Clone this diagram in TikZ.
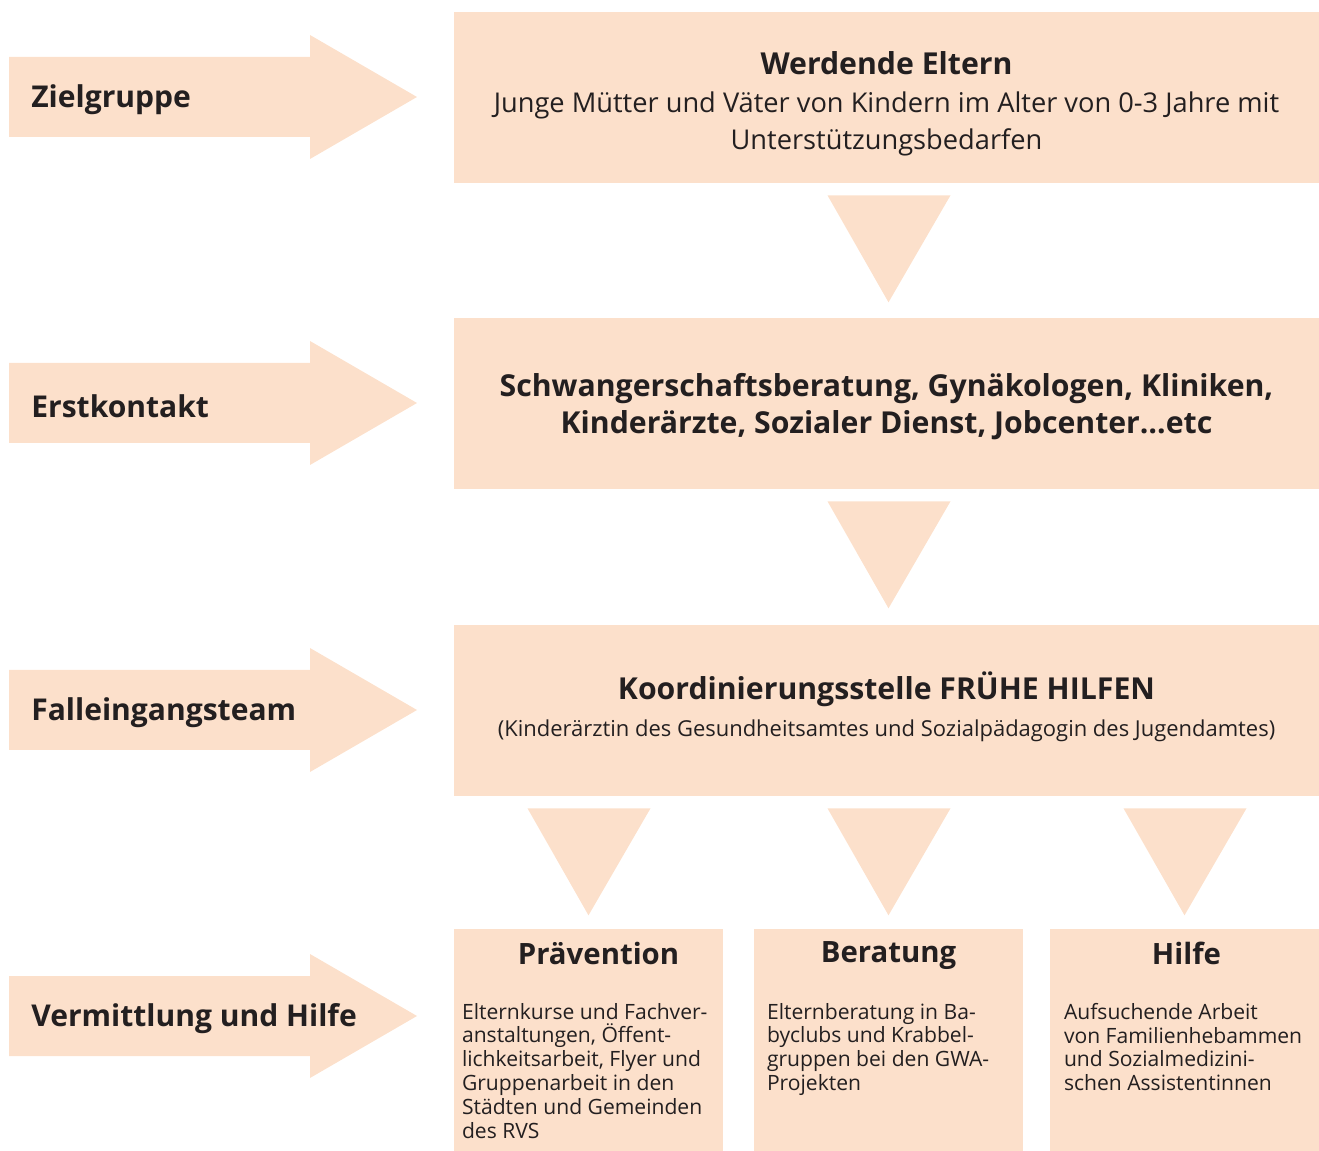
\documentclass[tikz,border=0pt]{standalone}
\usepackage{fontspec}
\setmainfont{Open Sans}
\usetikzlibrary{calc, positioning}
\definecolor{boxfill}{RGB}{252,224,203}
\definecolor{ink}{RGB}{35,31,32}
\tikzset{
  box/.style={fill=boxfill, rectangle, inner sep=0pt, minimum width=17.3cm, minimum height=3.42cm, align=center, text=ink},
  subbox/.style={fill=boxfill, rectangle, inner sep=0pt, minimum width=5.38cm, minimum height=4.44cm},
  side/.style={font=\bfseries\fontsize{17.1}{20}\selectfont, text=ink, inner sep=0pt},
  subtitle/.style={font=\bfseries\fontsize{16.7}{20}\selectfont, text=ink, inner sep=0pt},
  subtext/.style={font=\fontsize{12}{13.6}\selectfont, text=ink, inner sep=0pt, align=left},
}
\newcommand{\titel}{\bfseries\fontsize{17.2}{21}\selectfont}
% Pfeil links: name, mitte y, text
\newcommand{\pfeil}[3]{%
  \fill[boxfill] (9,#2-40) -- (310,#2-40) -- (310,#2-62) -- (417,#2)
    -- (310,#2+62) -- (310,#2+40) -- (9,#2+40) -- cycle;
  \node[side, anchor=west] (#1) at (31,#2+3) {#3};}
% Dreieck zwischen zwei Kaesten
\newcommand{\dreieck}[2]{%
  \fill[boxfill] ($(#1.south -| #2.north)+(-61,12)$) -- ($(#1.south -| #2.north)+(62,12)$)
    -- ($(#1.south -| #2.north)+(0,119)$) -- cycle;}

\begin{document}
\begin{tikzpicture}[x=0.02cm, y=-0.02cm]
    \useasboundingbox (0,0) rectangle (1319,1151);
    % linke Spalte
    \pfeil{ziel}{97}{Zielgruppe}
    \pfeil{erst}{403}{Erstkontakt}
    \pfeil{fall}{710}{Falleingangsteam}
    \pfeil{verm}{1016}{Vermittlung und Hilfe}
    % Kaesten
    \node[box, font=\fontsize{15.5}{21}\selectfont] (eltern) at (886.5,97.5) {};
    \node[align=center, text=ink, font=\fontsize{15.5}{21}\selectfont] (elternT) at ($(eltern.center)+(0,6)$)
        {{\titel Werdende Eltern}\\[0.7pt]
        Junge Mütter und Väter von Kindern im Alter von 0-3 Jahre mit\\
        Unterstützungsbedarfen};
    \node[box] (kontakt) at (886.5,403.5) {};
    \node[align=center, text=ink, font=\titel] (kontaktT) at ($(kontakt.center)+(0,3)$)
        {Schwangerschaftsberatung, Gynäkologen, Kliniken,\\
        Kinderärzte, Sozialer Dienst, Jobcenter\ldots etc};
    \node[box] (kosta) at (886.5,710.5) {};
    \node[align=center, text=ink, font=\fontsize{12.5}{21}\selectfont] (kostaT) at ($(kosta.center)+(0,-4)$)
        {{\titel Koordinierungsstelle FRÜHE HILFEN}\\
        (Kinderärztin des Gesundheitsamtes und Sozialpädagogin des Jugendamtes)};
    \node[subbox] (prae) at (588.5,1040) {};
    \node[subbox] (ber) at (888.5,1040) {};
    \node[subbox] (hilfe) at (1184.5,1040) {};
    \node[subtitle, anchor=north] (praeT) at ($(prae.north)+(10,13)$) {Prävention};
    \node[subtitle, anchor=north] (berT) at ($(ber.north)+(0,13)$) {Beratung};
    \node[subtitle, anchor=north] (hilfeT) at ($(hilfe.north)+(2,13)$) {Hilfe};
    \node[subtext, anchor=north west] (praeX) at ($(prae.north west)+(8,74)$)
        {Elternkurse und Fachver-\\anstaltungen, Öffent-\\lichkeitsarbeit, Flyer und\\Gruppenarbeit in den\\Städten und Gemeinden\\des RVS};
    \node[subtext, anchor=north west] (berX) at ($(ber.north west)+(13,74)$)
        {Elternberatung in Ba-\\byclubs und Krabbel-\\gruppen bei den GWA-\\Projekten};
    \node[subtext, anchor=north west] (hilfeX) at ($(hilfe.north west)+(14,74)$)
        {Aufsuchende Arbeit\\von Familienhebammen\\und Sozialmedizini-\\schen Assistentinnen};
    % Dreiecke
    \dreieck{eltern}{ber}
    \dreieck{kontakt}{ber}
    \dreieck{kosta}{prae}
    \dreieck{kosta}{ber}
    \dreieck{kosta}{hilfe}
\end{tikzpicture}
\end{document}
